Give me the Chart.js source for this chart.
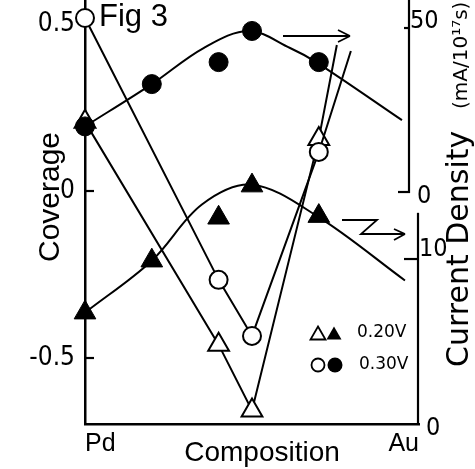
<!DOCTYPE html>
<html>
<head>
<meta charset="utf-8">
<script src="https://cdn.jsdelivr.net/npm/chart.js@4/dist/chart.umd.min.js"></script>
<style>
  html, body { margin: 0; padding: 0; background: #fff; }
  canvas { display: block; }
</style>
</head>
<body>
<canvas id="fig" width="475" height="469"></canvas>
<script>
// Alloy composition, fraction of Au (Pd = 0, Au = 1)
const composition = [0, 0.2, 0.4, 0.5, 0.7];

// Current density (mA/10^17 s), filled symbols
const current030 = [20.0, 32.9, 39.6, 49.1, 39.6];   // 0.30 V, upper scale
const current020 = [6.75, 9.9, 12.5, 14.45, 12.6];   // 0.20 V, lower scale

// Coverage, open symbols; the last entry is the free end of the drawn line
const coverageComp030 = [0, 0.4, 0.5, 0.7, 0.796];
const coverage030 = [0.518, -0.266, -0.434, 0.117, 0.419];
const coverageComp020 = [0, 0.4, 0.5, 0.7, 0.754];
const coverage020 = [0.207, -0.46, -0.657, 0.156, 0.437];

// Hand-drawn smooth curves through the current-density points
const trendComp030 = [0, 0.2, 0.355, 0.49, 0.614, 0.692, 0.949];
const trend030 = [20.0, 32.9, 43.9, 49.1, 43.9, 39.6, 21.9];
const trendComp020 = [0, 0.2, 0.35, 0.5, 0.695, 0.958];
const trend020 = [6.75, 9.9, 13.3, 14.5, 12.6, 8.7];

// Axis ticks
const compTicks = [0, 1];
const compTickLabels = ['Pd', 'Au'];
const coverageTicks = [-0.5, 0, 0.5];
const coverageTickLabels = ['-0.5', '0', '0.5'];
const densityTicksHigh = [0, 50];
const densityTicksLow = [0, 10];

const ink = '#000';
const handFont = '"Liberation Sans", Arial, sans-serif';
const wideFont = '"DejaVu Sans", Verdana, sans-serif';
const narrowFont = '"Liberation Sans Narrow", "DejaVu Sans Condensed", "Liberation Sans", sans-serif';

const pts = (xs, ys) => xs.map((x, i) => ({ x, y: ys[i] }));
const hideLast = r => c => (c.dataIndex === c.dataset.data.length - 1 ? 0 : r);

function seg(ctx, x1, y1, x2, y2) {
  ctx.beginPath(); ctx.moveTo(x1, y1); ctx.lineTo(x2, y2); ctx.stroke();
}
function tri(ctx, cx, cy, w, filled) {
  const h = w * 0.866;
  ctx.beginPath();
  ctx.moveTo(cx, cy - h / 2);
  ctx.lineTo(cx + w / 2, cy + h / 2);
  ctx.lineTo(cx - w / 2, cy + h / 2);
  ctx.closePath();
  if (filled) ctx.fill(); else ctx.stroke();
}
function circ(ctx, cx, cy, r, filled) {
  ctx.beginPath(); ctx.arc(cx, cy, r, 0, Math.PI * 2);
  if (filled) ctx.fill(); else ctx.stroke();
}

const decor = {
  id: 'decor',
  beforeDraw(chart) {
    const { ctx, width, height } = chart;
    ctx.save(); ctx.fillStyle = '#fff'; ctx.fillRect(0, 0, width, height); ctx.restore();
  },
  beforeDatasetsDraw(chart) {
    const { ctx, chartArea: a, scales } = chart;
    const cov = scales.cov, hi = scales.cdHigh, lo = scales.cdLow;
    ctx.save();
    ctx.strokeStyle = ink; ctx.lineWidth = 2.2;

    // inward ticks on the coverage axis
    for (const v of coverageTicks) {
      if (v === 0.5) continue;
      const y = cov.getPixelForValue(v);
      seg(ctx, a.left, y, a.left + 9, y);
    }

    // current-density scale for 0.30 V (upper right)
    const xh = a.right - 10;
    const y0h = hi.getPixelForValue(densityTicksHigh[0]);
    const y50 = hi.getPixelForValue(densityTicksHigh[1]);
    seg(ctx, xh, a.top, xh, y0h + 1);
    seg(ctx, xh - 11, y0h, xh + 1, y0h);
    seg(ctx, xh - 5, y50, xh, y50);

    // current-density scale for 0.20 V (lower right)
    const xl = a.right - 1;
    const y0l = lo.getPixelForValue(densityTicksLow[0]);
    const y10 = lo.getPixelForValue(densityTicksLow[1]);
    seg(ctx, xl, lo.getPixelForValue(12.8), xl, y0l);
    seg(ctx, xl - 14, y10, xl, y10);

    // their tick labels
    ctx.fillStyle = ink;
    ctx.font = '25px ' + narrowFont;
    ctx.textAlign = 'left'; ctx.textBaseline = 'middle';
    ctx.fillText(String(densityTicksHigh[1]), xh + 1, y50 - 7);
    ctx.fillText(String(densityTicksHigh[0]), xh + 8, y0h + 4);
    ctx.fillText(String(densityTicksLow[1]), xl + 1, y10 - 10);
    ctx.fillText(String(densityTicksLow[0]), xl + 8, y0l + 4);
    ctx.restore();
  },
  afterDraw(chart) {
    const { ctx } = chart;
    ctx.save();
    ctx.fillStyle = ink; ctx.strokeStyle = ink;

    // figure label
    ctx.font = '31px ' + handFont;
    ctx.textAlign = 'left'; ctx.textBaseline = 'alphabetic';
    ctx.fillText('Fig 3', 99, 26);

    // axis titles
    ctx.font = '28px ' + handFont;
    ctx.textAlign = 'center';
    ctx.fillText('Composition', 262, 461);

    ctx.save();
    ctx.translate(59, 197); ctx.rotate(-Math.PI / 2);
    ctx.font = '30px ' + handFont;
    ctx.fillText('Coverage', 0, 0);
    ctx.restore();

    ctx.save();
    ctx.translate(468, 367); ctx.rotate(-Math.PI / 2);
    ctx.textAlign = 'left';
    ctx.font = '30px ' + wideFont;
    ctx.fillText('Current Density', 0, 0);
    ctx.font = '20px ' + wideFont;
    ctx.fillText('(mA/10\u00B9\u2077s)', 258, -1);
    ctx.restore();

    // arrows pointing to the scale each set belongs to
    ctx.lineWidth = 1.8;
    seg(ctx, 283, 36, 350, 36);
    seg(ctx, 350, 36, 338, 30);
    seg(ctx, 350, 36, 338, 42);
    ctx.beginPath();
    ctx.moveTo(342, 220); ctx.lineTo(377, 220); ctx.lineTo(361, 234); ctx.lineTo(405, 234);
    ctx.stroke();
    seg(ctx, 405, 234, 394, 229);
    seg(ctx, 405, 234, 394, 240);

    // key
    ctx.lineWidth = 1.8;
    tri(ctx, 318, 333, 15, false);
    tri(ctx, 334, 333, 15, true);
    circ(ctx, 318, 365, 6.5, false);
    circ(ctx, 335, 365, 7.5, true);
    ctx.font = '17px ' + wideFont;
    ctx.textAlign = 'left'; ctx.textBaseline = 'middle';
    ctx.fillText('0.20V', 357, 333);
    ctx.fillText('0.30V', 359, 365);
    ctx.restore();
  }
};

new Chart(document.getElementById('fig'), {
  type: 'scatter',
  data: {
    datasets: [
      {
        label: '0.30 V current density',
        data: pts(composition, current030),
        yAxisID: 'cdHigh', showLine: false, order: 0, clip: false,
        pointStyle: 'circle', pointRadius: 9.5,
        pointBackgroundColor: ink, pointBorderColor: ink, pointBorderWidth: 1
      },
      {
        label: '0.20 V current density',
        data: pts(composition, current020),
        yAxisID: 'cdLow', showLine: false, order: 0, clip: false,
        pointStyle: 'triangle', pointRadius: 12.5,
        pointBackgroundColor: ink, pointBorderColor: ink, pointBorderWidth: 1
      },
      {
        label: '0.30 V coverage',
        data: pts(coverageComp030, coverage030),
        yAxisID: 'cov', showLine: true, tension: 0, order: 1, clip: false,
        borderColor: ink, borderWidth: 2, fill: false,
        pointStyle: 'circle', pointRadius: hideLast(9),
        pointBackgroundColor: '#fff', pointBorderColor: ink, pointBorderWidth: 2
      },
      {
        label: '0.20 V coverage',
        data: pts(coverageComp020, coverage020),
        yAxisID: 'cov', showLine: true, tension: 0, order: 2, clip: false,
        borderColor: ink, borderWidth: 2, fill: false,
        pointStyle: 'triangle', pointRadius: hideLast(12),
        pointBackgroundColor: '#fff', pointBorderColor: ink, pointBorderWidth: 2
      },
      {
        label: '0.30 V curve',
        data: pts(trendComp030, trend030),
        yAxisID: 'cdHigh', showLine: true, tension: 0.35, order: 3, clip: false,
        borderColor: ink, borderWidth: 2, fill: false, pointRadius: 0
      },
      {
        label: '0.20 V curve',
        data: pts(trendComp020, trend020),
        yAxisID: 'cdLow', showLine: true, tension: 0.35, order: 3, clip: false,
        borderColor: ink, borderWidth: 2, fill: false, pointRadius: 0
      }
    ]
  },
  options: {
    responsive: false,
    animation: false,
    events: [],
    devicePixelRatio: 1,
    layout: { autoPadding: false, padding: { left: 0, right: 56, top: 0, bottom: 0 } },
    plugins: { legend: { display: false }, tooltip: { enabled: false } },
    scales: {
      x: {
        type: 'linear', position: 'bottom', min: 0, max: 1,
        afterBuildTicks: s => { s.ticks = compTicks.map(v => ({ value: v })); },
        ticks: {
          callback: (v, i) => compTickLabels[i],
          align: 'inner', padding: 5, color: ink, autoSkip: false, maxRotation: 0,
          font: { family: handFont, size: 25 }
        },
        grid: { display: false, drawTicks: false },
        border: { display: true, color: ink, width: 2.5 },
        afterFit: s => { s.height = 45; s.paddingLeft = 0; s.paddingRight = 0; }
      },
      cov: {
        type: 'linear', position: 'left', min: -0.6976, max: 0.5719,
        afterBuildTicks: s => { s.ticks = coverageTicks.map(v => ({ value: v })); },
        ticks: {
          callback: (v, i) => coverageTickLabels[i],
          padding: 10, color: ink, autoSkip: false,
          font: { family: narrowFont, size: 26 }
        },
        grid: { display: false, drawTicks: false },
        border: { display: true, color: ink, width: 2.5 },
        afterFit: s => { s.width = 85; s.paddingTop = 0; s.paddingBottom = 0; }
      },
      cdHigh: { type: 'linear', display: false, min: -70.73, max: 58.54 },
      cdLow: { type: 'linear', display: false, min: 0, max: 25.7 }
    }
  },
  plugins: [decor]
});
</script>
</body>
</html>
